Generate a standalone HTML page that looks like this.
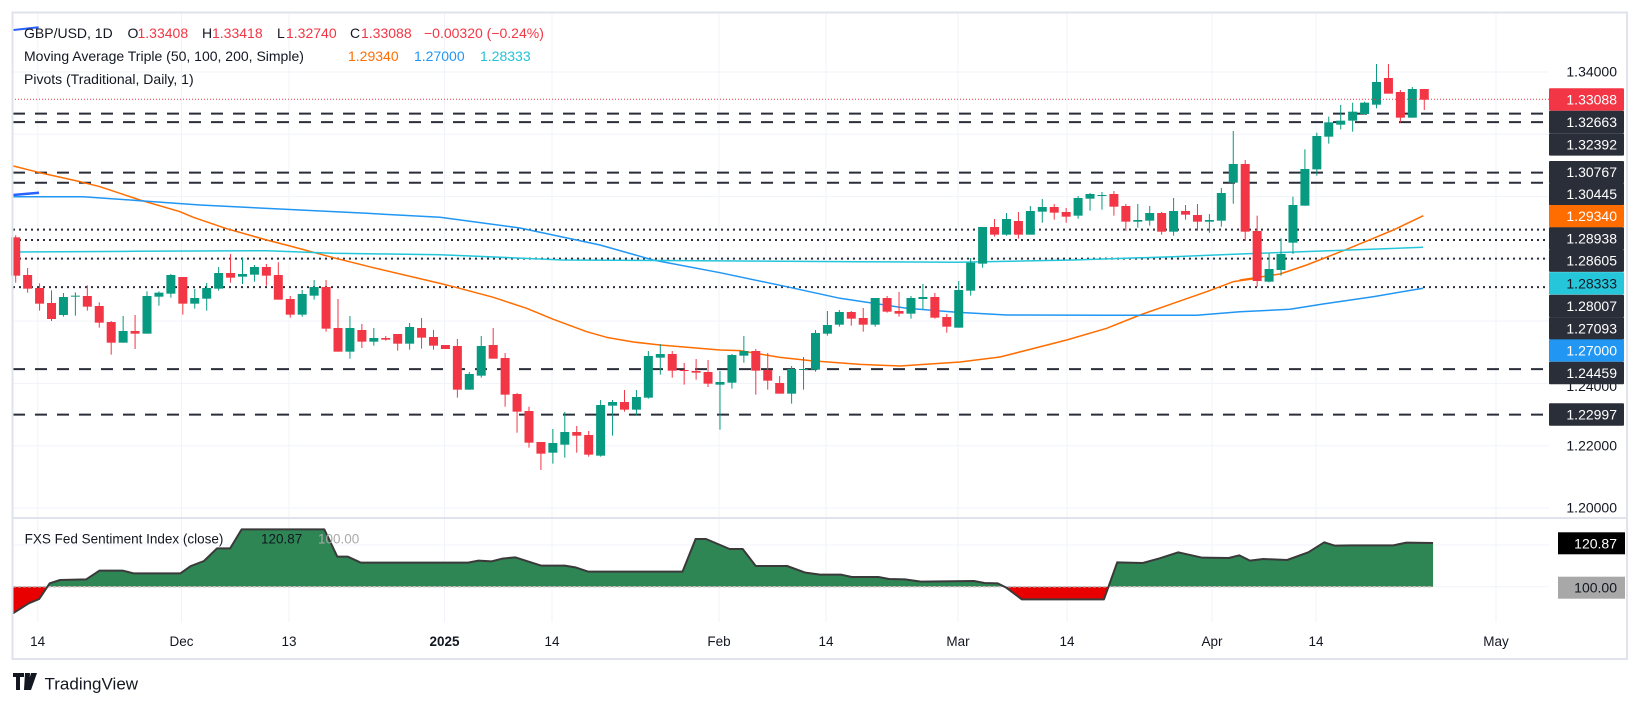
<!DOCTYPE html>
<html><head><meta charset="utf-8">
<style>
html,body{margin:0;padding:0;background:#fff;}
svg{display:block;font-family:"Liberation Sans",sans-serif;}
</style></head>
<body>
<svg id="s" width="1640" height="706" viewBox="0 0 1640 706" xmlns="http://www.w3.org/2000/svg">
<rect x="0" y="0" width="1640" height="706" fill="#fff"/>
<g id="grid"></g>
<g id="piv"></g>
<g id="ind"></g>
<g id="ma"></g>
<g id="cdl"></g>
<line x1="12" y1="99.3" x2="1549" y2="99.3" stroke="#f23645" stroke-width="1" stroke-dasharray="1 2"/>
<g id="axis"></g>
<rect x="12.5" y="12.5" width="1614.5" height="646.5" fill="none" stroke="#e0e3eb" stroke-width="2"/>
<line x1="12" y1="518" x2="1627" y2="518" stroke="#e0e3eb" stroke-width="2"/>
<g font-size="14" fill="#131722" dominant-baseline="central">
<line x1="13.6" y1="30" x2="38.6" y2="27.3" stroke="#2962ff" stroke-width="2"/>
<text x="24" y="33">GBP/USD, 1D</text>
<text x="127.5" y="33">O</text><text x="137.5" y="33" fill="#f23645">1.33408</text>
<text x="202" y="33">H</text><text x="212" y="33" fill="#f23645">1.33418</text>
<text x="277" y="33">L</text><text x="286" y="33" fill="#f23645">1.32740</text>
<text x="350" y="33">C</text><text x="361" y="33" fill="#f23645">1.33088</text>
<text x="424" y="33" fill="#f23645">−0.00320 (−0.24%)</text>
<text x="24" y="56">Moving Average Triple (50, 100, 200, Simple)</text>
<text x="348" y="56" fill="#ff6d00">1.29340</text>
<text x="414" y="56" fill="#2196f3">1.27000</text>
<text x="480" y="56" fill="#22c3d6">1.28333</text>
<text x="24" y="79">Pivots (Traditional, Daily, 1)</text>
<text x="24.6" y="539" font-size="13.5">FXS Fed Sentiment Index (close)</text>
<text x="261" y="539" font-size="13.5">120.87</text>
<text x="318" y="539" font-size="13.5" fill="#aaaaaa">100.00</text>
</g>
<g>
<path d="M13 673 h11 v4 h-4 v13 h-4 v-13 h-3z M25 673 h5 l-1 17 h-5z M31 673 h6 l-6 17 h-5z" fill="#131722"/>
<text x="44.5" y="684" font-size="17" fill="#131722" dominant-baseline="central">TradingView</text>
</g>
</svg>
<script>
const NS="http://www.w3.org/2000/svg";
function el(p,t,a,txt){const e=document.createElementNS(NS,t);for(const k in a)e.setAttribute(k,a[k]);if(txt!==undefined)e.textContent=txt;document.getElementById(p).appendChild(e);return e;}
// grid
const vx=[37.7,181.5,289,444.5,552,719,826,958,1067,1212,1316,1496];
vx.forEach(x=>el("grid","line",{x1:x,y1:13,x2:x,y2:622,stroke:"#f0f3fa","stroke-width":1}));
[72,134.3,196.6,258.8,321.1,383.4,445.7,508,545,586.7].forEach(y=>el("grid","line",{x1:13,y1:y,x2:1549,y2:y,stroke:"#f0f3fa","stroke-width":1}));
// time labels
const tl=[["14",37.7],["Dec",181.5],["13",289],["2025",444.5],["14",552],["Feb",719],["14",826],["Mar",958],["14",1067],["Apr",1212],["14",1316],["May",1496]];
tl.forEach(([t,x])=>{const e=el("axis","text",{x:x,y:641.7,"font-size":13.5,fill:"#131722","text-anchor":"middle","dominant-baseline":"central"},t);if(t==="2025")e.setAttribute("font-weight","bold");});
// pivots
const P=p=>72+(1.34-p)*3114;
[1.32663,1.32392,1.30767,1.30445,1.24459,1.22997].forEach(p=>el("piv","line",{x1:13,y1:P(p),x2:1549,y2:P(p),stroke:"#2a2e39","stroke-width":2,"stroke-dasharray":"12 10"}));
[1.28938,1.28605,1.28007,1.27093].forEach(p=>el("piv","line",{x1:13,y1:P(p),x2:1549,y2:P(p),stroke:"#2a2e39","stroke-width":2,"stroke-dasharray":"2 4"}));
// MAs
function pl(pts,c,w){el("ma","polyline",{points:pts.map(p=>p.join(",")).join(" "),fill:"none",stroke:c,"stroke-width":w||1.5,"stroke-linejoin":"round"});}
function cv(arr,ox,oy){return arr.map(([x,y])=>[ox+x/3,oy+y/3]);}
let orange=[].concat(
 cv([[40,108],[115,127],[240,155],[300,170],[420,210],[540,245],[580,262],[680,296],[800,330],[870,348],[1000,383],[1120,413],[1320,460]],0,130),
 cv([[100,80],[220,112],[320,145],[400,178],[500,215],[560,232],[640,246],[720,255],[900,270],[960,272],[1080,292],[1170,302],[1320,313]],420,260),
 [[900,366],[960,362],[1000,357]],
 cv([[680,690],[800,655],[900,615],[1000,580],[1100,545],[1180,515],[1250,505]],840,110),
 cv([[0,690],[120,672],[200,645],[320,598],[400,565],[460,540],[550,497]],1240,50));
pl(orange,"#ff6d00",1.5);
pl([[13.3,196.7],[83,196.7],[140,200.7],[200,205],[300,210],[366.7,213.3],[440,217.3],[520,228],[600,245],[653,260],[720,272.7],[786.7,286.7],[840,298.3],[906.7,308.3],[956.7,312.3],[1006.7,315],[1106.7,315.3],[1196.7,315.3],[1240,311.7],[1290,309.3],[1323,304],[1373,296.7],[1423,288.3]],"#2196f3",1.5);
pl([[13,252],[133,251.3],[267,250.7],[333,253.3],[440,254.7],[563,260],[860,261.7],[956.7,262.3],[1073,260],[1173,256.7],[1240,254],[1423,247.3]],"#26c6da",1.5);
pl([[13,195],[39,192.7]],"#2962ff",2.5);
// candles
const G="#089981",R="#f23645";
function seg(oy,start,arr){arr.forEach((c,i)=>{const k=start+i;const x=15.7+(k-1)*11.937;const col=c[0]=="g"?G:R;
 const bt=oy+c[1]/3,bb=oy+c[2]/3,wt=oy+c[3]/3,wb=oy+c[4]/3;
 el("cdl","line",{x1:x,y1:wt,x2:x,y2:wb,stroke:col,"stroke-width":1});
 el("cdl","rect",{x:x-4.5,y:bt,width:9,height:Math.max(1,bb-bt),fill:col});});}
seg(130,1,[["r",322,437,316,458],["r",435,476,414,488],["r",474,521,460,542],["r",519,567,481,573],["g",501,555,489,560],["g",497,500,487,557],["r",498,530,466,542],["r",528,578,517,593],["r",576,638,573,674],["g",603,638,558,638],["r",603,611,555,657],["g",498,611,484,611],["g",488,500,484,527],["g",435,491,432,503],["r",441,521,441,554],["g",504,521,477,536],["g",474,506,459,542],["g",429,476,411,482],["r",429,443,372,458],["g",432,440,382,462],["g",411,434,405,455],["r",411,437,402,467],["r",435,509,397,509],["r",507,554,498,563],["g",492,554,480,560],["g",471,497,450,509],["r",471,596,450,605],["r",594,665,507,665],["g",594,665,558,686],["r",600,635,582,654],["g",624,635,594,647],["r",624,629,618,632],["r",612,641,612,662],["g",591,641,579,659],["r",594,623,564,656],["r",621,647,600,659]]);
seg(260,37,[["r",255,267,255,267],["r",258,389,237,413],["g",342,389,336,389],["g",258,347,228,353],["r",255,296,204,296],["r",294,404,279,440],["r",402,455,399,518],["r",453,548,440,563],["r",546,581,546,630],["g",549,578,507,611],["g",516,554,456,593],["r",516,527,498,578],["r",525,584,513,590],["g",435,587,420,590],["g",426,437,420,527],["r",426,449,390,455],["g",411,449,390,467],["g",288,413,273,416],["g",282,293,252,344],["r",282,332,273,353],["r",330,333,309,374],["r",333,338,297,359],["r",336,371,300,381],["g",366,374,333,509],["g",285,368,282,386],["g",273,287,228,308],["r",273,332,267,404],["r",330,362,279,389],["r",369,401,348,401],["g",327,401,318,431],["g",327,329,291,389],["g",219,329,210,335],["g",195,221,153,227],["g",156,194,150,200],["r",156,176,153,197]]);
seg(110,72,[["r",624,644,594,665],["g",564,644,564,650],["r",564,605,558,608],["r",603,611,546,620],["g",564,611,558,626],["g",561,567,522,597],["r",561,623,549,626],["r",621,650,612,668],["g",540,653,513,653],["g",458,542,444,557],["g",351,461,351,473],["r",351,374,327,380],["g",327,374,309,377],["r",333,374,306,386],["g",303,374,288,374],["g",291,305,267,338],["r",291,308,282,329],["r",306,320,294,338],["g",264,317,258,326],["g",252,266,249,302],["g",255,258,246,299],["r",252,290,243,317],["r",288,335,282,362],["g",330,335,282,353],["g",309,332,288,347],["r",309,365,306,374],["g",303,365,264,377],["r",303,314,285,329],["r",315,335,282,362],["g",330,335,312,368],["g",249,332,234,350],["g",162,218,63,281]]);
seg(50,104,[["r",342,545,330,572],["r",543,693,497,710],["g",657,695,610,697],["g",612,660,565,677],["g",465,578,440,612],["g",357,467,298,467],["g",258,358,248,377],["g",217,260,200,281],["g",212,224,165,238],["g",185,212,158,245],["g",158,192,155,193],["g",96,164,42,175],["r",84,131,42,131],["r",126,203,120,218],["g",117,203,111,203],["r",117,149,117,180]]);
// indicator
let ip=[].concat(
 [[25,340],[40,325],[55,310],[75,297],[95,250],[115,240],[165,238],[190,212],[235,212],[255,220],[345,220],[365,198],[390,183],[415,145],[440,145],[462,88],[620,88],[645,170],[665,170],[690,188],[895,188],[915,182],[940,184],[960,176],[985,172],[1035,197],[1080,197],[1100,202],[1125,215],[1305,215],[1330,117],[1350,117],[1395,147],[1420,147],[1445,198],[1505,198],[1540,218],[1568,224]].map(([x,y])=>[x/1.912,500+y/3]),
 [[40,224],[60,231],[110,231],[130,237],[160,238],[190,245],[290,243],[310,249],[335,250],[350,262],[380,298],[535,298],[560,187],[608,189],[640,175],[675,157],[720,173],[770,174],[790,166],[810,182],[835,177],[880,180],[920,157],[950,127],[970,137],[1000,136],[1080,136],[1105,128],[1155,129]].map(([x,y])=>[820+x/1.884,500+y/3]));
const BL=586.7;
const defs=el("ind","defs",{});
const c1=document.createElementNS(NS,"clipPath");c1.setAttribute("id","ab");const r1=document.createElementNS(NS,"rect");r1.setAttribute("x",0);r1.setAttribute("y",518);r1.setAttribute("width",1640);r1.setAttribute("height",BL-518);c1.appendChild(r1);defs.appendChild(c1);
const c2=document.createElementNS(NS,"clipPath");c2.setAttribute("id","be");const r2=document.createElementNS(NS,"rect");r2.setAttribute("x",0);r2.setAttribute("y",BL);r2.setAttribute("width",1640);r2.setAttribute("height",60);c2.appendChild(r2);defs.appendChild(c2);
const last=ip[ip.length-1],first=ip[0];
const poly=ip.map(p=>p.join(",")).join(" ")+` ${last[0]},${BL} ${first[0]},${BL}`;
el("ind","polygon",{points:poly,fill:"#2e8654","clip-path":"url(#ab)"});
el("ind","polygon",{points:poly,fill:"#e80000","clip-path":"url(#be)"});
el("ind","line",{x1:13,y1:BL,x2:last[0],y2:BL,stroke:"#bbbbbb","stroke-width":1.5,"stroke-dasharray":"3 2"});
el("ind","polyline",{points:ip.map(p=>p.join(",")).join(" "),fill:"none",stroke:"#3a3a3a","stroke-width":2,"stroke-linejoin":"round"});
// axis labels
function lab(t,y,bg,fg){if(bg)el("axis","rect",{x:1549,y:y-11.2,width:75,height:22.4,fill:bg,rx:1});el("axis","text",{x:1617,y:y,"font-size":14,fill:fg||"#131722","text-anchor":"end","dominant-baseline":"central"},t);}
lab("1.34000",71.7);lab("1.24000",386);lab("1.22000",445.7);lab("1.20000",507.7);
lab("1.33088",99.5,"#f23645","#fff");
const D="#2a2e39";
lab("1.32663",122,D,"#fff");lab("1.32392",144.4,D,"#fff");
lab("1.30767",172.2,D,"#fff");lab("1.30445",194.2,D,"#fff");
lab("1.29340",216.2,"#ff6d00","#fff");
lab("1.28938",238.5,D,"#fff");lab("1.28605",260.7,D,"#fff");
lab("1.28333",283.3,"#26c6da","#131722");
lab("1.28007",306,D,"#fff");lab("1.27093",328.3,D,"#fff");
lab("1.27000",350.6,"#2196f3","#fff");
lab("1.24459",373,D,"#fff");
lab("1.22997",414.5,D,"#fff");
el("axis","rect",{x:1558,y:532.3,width:67,height:22,fill:"#000"});
el("axis","text",{x:1617,y:543.3,"font-size":14,fill:"#fff","text-anchor":"end","dominant-baseline":"central"},"120.87");
el("axis","rect",{x:1558,y:576.7,width:67,height:22,fill:"#a8a8a8"});
el("axis","text",{x:1617,y:587.7,"font-size":14,fill:"#131722","text-anchor":"end","dominant-baseline":"central"},"100.00");
</script>
</body></html>
